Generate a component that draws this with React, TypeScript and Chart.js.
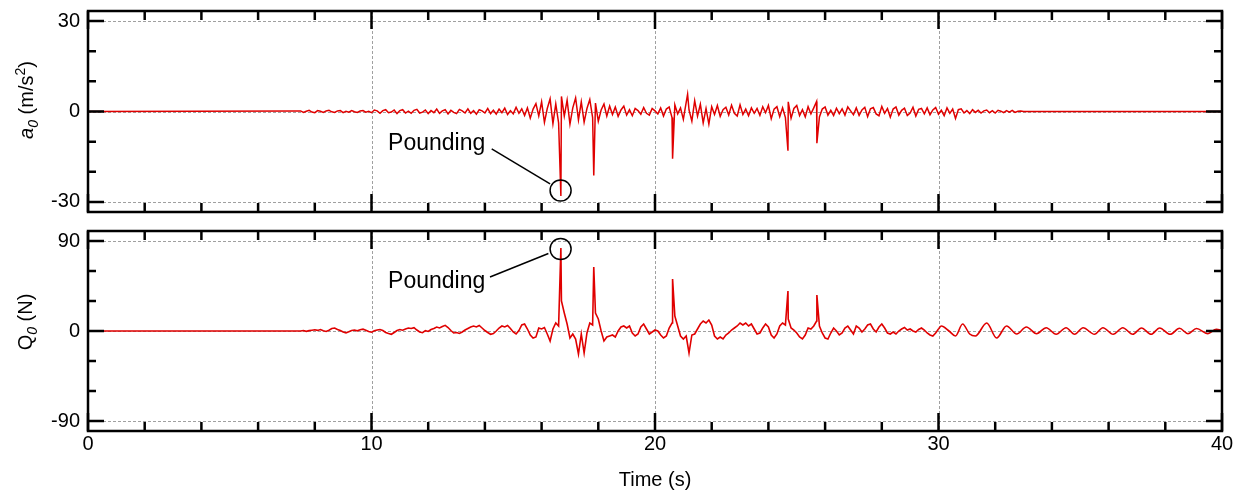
import React, { useEffect, useRef } from 'react';
import { Chart, registerables } from 'chart.js';

Chart.register(...registerables);

const FONT = '"Liberation Sans", Arial, Helvetica, sans-serif';
const RED = '#e00000';

// ---- axes ----
const timeRange = [0, 40];
const timeLabelTicks = [0, 10, 20, 30, 40];
const timeAllTicks = [0, 2, 4, 6, 8, 10, 12, 14, 16, 18, 20, 22, 24, 26, 28, 30, 32, 34, 36, 38, 40];
const timeMajorTicks = [0, 10, 20, 30, 40];
const timeGridLines = [10, 20, 30];

const accRange = [-33.33, 33.33];
const accLabelTicks = [-30, 0, 30];
const accAllTicks = [-30, -20, -10, 0, 10, 20, 30];
const accGridLines = [-30, 0, 30];

const qRange = [-100, 100];
const qLabelTicks = [-90, 0, 90];
const qAllTicks = [-90, -60, -30, 0, 30, 60, 90];
const qGridLines = [-90, 0, 90];

// ---- acceleration a0 (m/s^2), sampled every 0.1 s from 7.5 s ----
const accStart = 7.5;
const accStep = 0.1;
const accValues = [
  0.2, -0.3, 0.1, 0.4, -0.2, -0.4, 0.3, 0.1, -0.3, 0.2,
  0.4, -0.1, -0.3, 0.2, 0.3, -0.4, 0.1, -0.2, 0.3, -0.1,
  -0.3, 0.2, 0.3, -0.2, 0.1, -0.4, 0.5, 0.2, -0.6, 0.3,
  0.6, -0.4, -0.2, 0.5, -0.7, 0.3, 0.6, -0.5, 0.1, -0.6,
  0.4, 0.7, -0.5, -0.2, 0.5, -0.7, 0.3, -0.4, 0.8, -0.6,
  0.2, 0.6, -0.8, 0.4, -0.3, -0.7, 0.7, 0.2, -0.5, 0.9,
  -0.6, 0.3, -0.9, 0.6, 0.2, -0.5, 1.0, -0.7, 0.4, -0.9,
  0.8, -0.4, 1.1, -1.0, 0.3, -0.8, 1.4, -0.6, 0.9, -1.3,
  1.2, -2.2, 0.8, 2.6, -1.5, 3.2, -3.6, 1.0, 4.2, -4.0,
  2.5, -3.8, 5.0, -1.5, 3.8, -4.2, 1.2, 4.5, -2.8, 3.2,
  -3.5, 1.0, 4.0, -2.0, 2.8, -3.2, 0.5, 2.5, -1.5, 1.8,
  -1.0, 1.5, -1.6, 0.5, 1.8, -1.2, 0.6, -1.4, 1.0, 0.3,
  -0.9, 1.3, -0.6, -1.2, 1.0, 0.2, -0.8, 1.2, -1.5, 0.8,
  1.5, -2.0, 2.2, -0.8, 1.2, -2.6, 3.0, 0.5, -3.2, 3.6,
  -1.5, 2.4, -3.8, 1.0, -4.2, 1.6, -1.0, 2.0, -1.6, 0.6,
  1.4, -1.2, 2.1, -0.6, -1.5, 2.2, -1.0, 0.8, -1.4, 1.2,
  -0.6, 1.0, -1.3, 1.6, -0.4, 2.0, -2.4, 0.8, 1.6, -1.7,
  1.2, -2.0, 3.2, -2.2, 1.0, 2.0, -1.4, 0.6, -1.8, 1.6,
  -0.8, 1.2, 3.3, -1.8, 0.8, 1.5, -1.2, 0.4, -1.3, 1.1,
  -0.7, 0.9, -1.2, 1.5, 0.2, -1.1, 1.2, -1.3, 0.5, 1.4,
  -1.7, 0.9, 1.3, -0.8, -1.4, 1.7, -0.6, 1.0, -1.9, 0.8,
  1.5, -1.2, 0.4, 1.1, -1.3, -0.5, 1.4, -1.5, 0.7, 1.0,
  -0.8, 1.2, -1.1, 0.5, 1.3, -0.9, 0.4, -1.4, 1.2, -0.6,
  0.8, -2.3, 0.6, 0.9, -0.5, 0.3, -0.7, 0.6, -0.3, 0.4,
  -0.5, 0.2, 0.5, -0.4, 0.3, -0.5, 0.4, 0.1, -0.4, 0.3,
  -0.2, 0.4, -0.3, 0.1, 0.2, 0,
];
const accSpikeTimes = [16.68, 17.84, 20.62, 21.15, 24.69, 25.71];
const accSpikeValues = [-28, -21.2, -15.7, 5.7, -13, -10.5];

// ---- force Q0 (N), sampled every 0.1 s from 7.5 s ----
const qStart = 7.5;
const qStep = 0.1;
const qValues = [
  0, 0.5, -0.3, 0.4, 0.8, 1.2, 0.6, 1.5, 0.2, -0.5,
  0.8, 2.5, 3.0, 1.5, 0.5, -1.0, -1.8, -0.8, 0.5, 1.0,
  0.2, 1.2, 1.8, 0.8, -0.5, -1.2, 0.3, 1.0, 1.5, 0.5,
  -1.5, -2.5, -3.3, -1.5, 0.5, 1.5, 0.8, 2.0, 3.0, 2.5,
  3.3, 1.0, -1.0, -1.7, 0.3, -0.5, 1.5, 2.5, 4.0, 3.0,
  4.5, 5.7, 3.5, 0.5, -2.0, -1.5, -2.5, -1.0, 1.0, 2.5,
  4.0, 5.0, 4.0, 5.5, 3.0, 0.5, -1.5, -3.3, -2.5, 0,
  3.0, 5.0, 4.0, 5.5, 2.5, -1.0, -3.0, 0.5, 6.0, 7.0,
  2.0, -4.0, -7.0, -6.0, 3.0, 2.0, 3.5, -3.0, -10.0, 2.0,
  8.0, 5.0, 30.0, 18.0, 7.0, -7.0, -3.0, -8.0, -23.0, -3.0,
  -22.0, -2.0, 8.0, 6.0, 18.0, 12.0, 0, -10.0, -6.0, -5.0,
  -4.0, -6.0, 0, 4.0, 5.0, 3.0, 5.0, -2.0, -5.0, -3.0,
  4.0, 7.0, 2.0, -3.0, -1.0, 1.0, 0, -4.0, -7.0, -5.0,
  3.0, 8.0, 15.0, 5.0, -5.0, -8.0, -5.0, -22.0, -4.0, -3.0,
  2.0, 7.0, 10.0, 8.0, 11.0, 6.0, -5.0, -8.0, -6.0, -8.0,
  -4.0, -2.0, 1.0, 3.0, 5.0, 8.0, 6.0, 8.0, 5.0, 7.0,
  2.0, -3.0, -2.0, 3.0, 7.0, 4.0, -4.0, -7.0, -3.0, 5.0,
  8.0, 6.0, 12.0, 3.0, 1.0, -2.0, -6.0, -8.0, -4.0, 3.0,
  2.0, 5.0, 10.0, 5.0, -2.0, -7.0, -8.0, -2.0, 3.0, 0,
  -4.0, -2.0, 3.0, 5.0, 1.0, -3.0, 5.0, 3.0, -1.0, 2.0,
  6.0, 7.0, 2.0, -1.0, 4.0, 7.0, 3.0, -2.0, -3.0, -1.0,
  -3.0, 0, 2.0, 3.5, 1.0, 2.0, 0, -1.0, 1.5, 3.0,
  1.0, -2.0, -4.0, -5.0, -2.0, 2.0,
];
const qSpikeTimes = [16.68, 17.84, 20.62, 24.69, 25.71];
const qSpikeValues = [83, 64, 52, 40, 36];
// free-vibration tail: successive extremes
const qTailTimes = [30.0, 30.1, 30.37, 30.6, 30.85, 31.1, 31.3, 31.7, 32.05, 32.4, 32.76, 33.1, 33.46, 33.8, 34.15, 34.5, 34.8, 35.1, 35.5, 35.8, 36.16, 36.5, 36.85, 37.16, 37.5, 37.8, 38.17, 38.5, 38.8, 39.1, 39.5, 39.8, 40.0];
const qTailValues = [2.0, 5, 0, -5, 7, -3, -5, 8, -7, 5, -3, 4, -2.7, 3.3, -3.3, 3.3, -3.3, 3.3, -3.3, 3.3, -3.3, 3.3, -3.3, 3.0, -3.3, 3.0, -3.3, 2.7, -2.7, 2.5, -2.7, 1.8, 0.5];

// ---- "Pounding" annotations (data coordinates) ----
const accNote = { label: 'Pounding', text: [12.3, -12.9], from: [14.24, -12.4], to: [16.3, -24.0], circle: [16.67, -26.2] };
const qNote = { label: 'Pounding', text: [12.3, 43], from: [14.18, 54], to: [16.24, 77.5], circle: [16.67, 82] };

type Pt = { x: number; y: number };

function buildPoints(start: number, step: number, values: number[], spikeTimes: number[], spikeValues: number[]): Pt[] {
  const pts: Pt[] = [{ x: 0, y: 0 }];
  values.forEach((v, i) => pts.push({ x: +(start + i * step).toFixed(3), y: v }));
  spikeTimes.forEach((t, i) => pts.push({ x: t, y: spikeValues[i] }));
  pts.sort((a, b) => a.x - b.x);
  return pts;
}

const decoPlugin = {
  id: 'deco',
  beforeDatasetsDraw(chart: any, _args: any, o: any) {
    const { ctx, chartArea: a } = chart;
    const xs = chart.scales.x;
    const ys = chart.scales.y;
    ctx.save();
    ctx.strokeStyle = '#a0a0a0';
    ctx.lineWidth = 1;
    ctx.setLineDash([3, 2]);
    ctx.beginPath();
    for (const t of o.xGrid) {
      const px = Math.round(xs.getPixelForValue(t)) + 0.5;
      ctx.moveTo(px, a.top);
      ctx.lineTo(px, a.bottom);
    }
    for (const v of o.yGrid) {
      const py = Math.round(ys.getPixelForValue(v)) + 0.5;
      ctx.moveTo(a.left, py);
      ctx.lineTo(a.right, py);
    }
    ctx.stroke();
    ctx.restore();
  },
  afterDatasetsDraw(chart: any, _args: any, o: any) {
    const { ctx, chartArea: a } = chart;
    const xs = chart.scales.x;
    const ys = chart.scales.y;
    ctx.save();
    ctx.strokeStyle = '#000';
    ctx.lineWidth = 2.5;
    ctx.setLineDash([]);
    ctx.beginPath();
    for (const t of o.xTicks) {
      const px = xs.getPixelForValue(t);
      const len = o.xMajor.includes(t) ? 18 : 9;
      ctx.moveTo(px, a.bottom);
      ctx.lineTo(px, a.bottom - len);
      ctx.moveTo(px, a.top);
      ctx.lineTo(px, a.top + len);
    }
    for (const v of o.yTicks) {
      const py = ys.getPixelForValue(v);
      const len = o.yMajor.includes(v) ? 16 : 8;
      ctx.moveTo(a.left, py);
      ctx.lineTo(a.left + len, py);
      ctx.moveTo(a.right, py);
      ctx.lineTo(a.right - len, py);
    }
    ctx.stroke();
    ctx.strokeRect(a.left, a.top, a.right - a.left, a.bottom - a.top);

    const n = o.note;
    if (n) {
      ctx.lineWidth = 1.5;
      ctx.beginPath();
      ctx.moveTo(xs.getPixelForValue(n.from[0]), ys.getPixelForValue(n.from[1]));
      ctx.lineTo(xs.getPixelForValue(n.to[0]), ys.getPixelForValue(n.to[1]));
      ctx.stroke();
      ctx.beginPath();
      ctx.arc(xs.getPixelForValue(n.circle[0]), ys.getPixelForValue(n.circle[1]), 10.5, 0, Math.PI * 2);
      ctx.stroke();
      ctx.fillStyle = '#000';
      ctx.font = `23px ${FONT}`;
      ctx.textAlign = 'center';
      ctx.textBaseline = 'alphabetic';
      ctx.fillText(n.label, xs.getPixelForValue(n.text[0]), ys.getPixelForValue(n.text[1]));
    }
    ctx.restore();
  },
};

function yAxis(range: number[], labels: number[]) {
  return {
    type: 'linear' as const,
    min: range[0],
    max: range[1],
    afterBuildTicks: (s: any) => {
      s.ticks = labels.map((value) => ({ value }));
    },
    afterFit: (s: any) => {
      s.width = 88;
      s.paddingTop = 0;
      s.paddingBottom = 0;
    },
    grid: { display: false, drawTicks: false },
    border: { display: false },
    ticks: {
      color: '#000',
      padding: 8,
      font: { family: FONT, size: 20, lineHeight: 1 },
      callback: (v: any) => String(v),
    },
  };
}

export default function App() {
  const topRef = useRef<HTMLCanvasElement | null>(null);
  const botRef = useRef<HTMLCanvasElement | null>(null);

  useEffect(() => {
    const accPoints = buildPoints(accStart, accStep, accValues, accSpikeTimes, accSpikeValues);
    accPoints.push({ x: timeRange[1], y: 0 });
    const qPoints = buildPoints(qStart, qStep, qValues, qSpikeTimes, qSpikeValues);
    const qTail = qTailTimes.map((t, i) => ({ x: t, y: qTailValues[i] }));

    const top = new Chart(topRef.current as HTMLCanvasElement, {
      type: 'line',
      data: {
        datasets: [
          { data: accPoints, borderColor: RED, borderWidth: 1.5, pointRadius: 0, tension: 0, fill: false },
        ],
      },
      options: {
        responsive: false,
        animation: false,
        events: [],
        layout: { padding: { top: 11, bottom: 8, left: 0, right: 19 } },
        scales: {
          x: { type: 'linear', min: timeRange[0], max: timeRange[1], display: false },
          y: yAxis(accRange, accLabelTicks) as any,
        },
        plugins: {
          legend: { display: false },
          tooltip: { enabled: false },
          deco: {
            xGrid: timeGridLines,
            yGrid: accGridLines,
            xTicks: timeAllTicks,
            xMajor: timeMajorTicks,
            yTicks: accAllTicks,
            yMajor: accLabelTicks,
            note: accNote,
          },
        } as any,
      },
      plugins: [decoPlugin],
    });

    const bot = new Chart(botRef.current as HTMLCanvasElement, {
      type: 'line',
      data: {
        datasets: [
          { data: qPoints, borderColor: RED, borderWidth: 1.6, pointRadius: 0, tension: 0, fill: false },
          { data: qTail, borderColor: RED, borderWidth: 1.6, pointRadius: 0, cubicInterpolationMode: 'monotone', fill: false },
        ],
      },
      options: {
        responsive: false,
        animation: false,
        events: [],
        layout: { padding: { top: 11, bottom: 2, left: 0, right: 19 } },
        scales: {
          x: {
            type: 'linear',
            min: timeRange[0],
            max: timeRange[1],
            afterBuildTicks: (s: any) => {
              s.ticks = timeLabelTicks.map((value) => ({ value }));
            },
            afterFit: (s: any) => {
              s.height = 65;
              s.paddingLeft = 0;
              s.paddingRight = 0;
            },
            grid: { display: false, drawTicks: false },
            border: { display: false },
            ticks: {
              color: '#000',
              padding: 1,
              maxRotation: 0,
              autoSkip: false,
              font: { family: FONT, size: 20 },
              callback: (v: any) => String(v),
            },
            title: {
              display: true,
              text: 'Time (s)',
              color: '#000',
              font: { family: FONT, size: 20 },
              padding: { top: 4, bottom: 4 },
            },
          },
          y: yAxis(qRange, qLabelTicks) as any,
        },
        plugins: {
          legend: { display: false },
          tooltip: { enabled: false },
          deco: {
            xGrid: timeGridLines,
            yGrid: qGridLines,
            xTicks: timeAllTicks,
            xMajor: timeMajorTicks,
            yTicks: qAllTicks,
            yMajor: qLabelTicks,
            note: qNote,
          },
        } as any,
      },
      plugins: [decoPlugin],
    });

    return () => {
      top.destroy();
      bot.destroy();
    };
  }, []);

  const titleStyle: React.CSSProperties = {
    position: 'absolute',
    transform: 'translate(-50%, -50%) rotate(-90deg)',
    font: `20px ${FONT}`,
    lineHeight: 1,
    whiteSpace: 'nowrap',
    color: '#000',
  };
  const subStyle: React.CSSProperties = { fontStyle: 'italic', fontSize: '0.7em', verticalAlign: '-0.35em', lineHeight: 0 };
  const supStyle: React.CSSProperties = { fontSize: '0.7em', verticalAlign: '0.55em', lineHeight: 0 };

  return (
    <div style={{ position: 'absolute', left: 0, top: 0, width: 1241, height: 498, background: '#fff' }}>
      <canvas ref={topRef} width={1241} height={220} style={{ position: 'absolute', left: 0, top: 0 }} />
      <canvas ref={botRef} width={1241} height={278} style={{ position: 'absolute', left: 0, top: 220 }} />
      <div style={{ ...titleStyle, left: 26, top: 100 }}>
        <i>a</i>
        <span style={subStyle}>0</span> (m/s<span style={supStyle}>2</span>)
      </div>
      <div style={{ ...titleStyle, left: 25, top: 322 }}>
        <span>Q</span>
        <span style={subStyle}>0</span> (N)
      </div>
    </div>
  );
}
